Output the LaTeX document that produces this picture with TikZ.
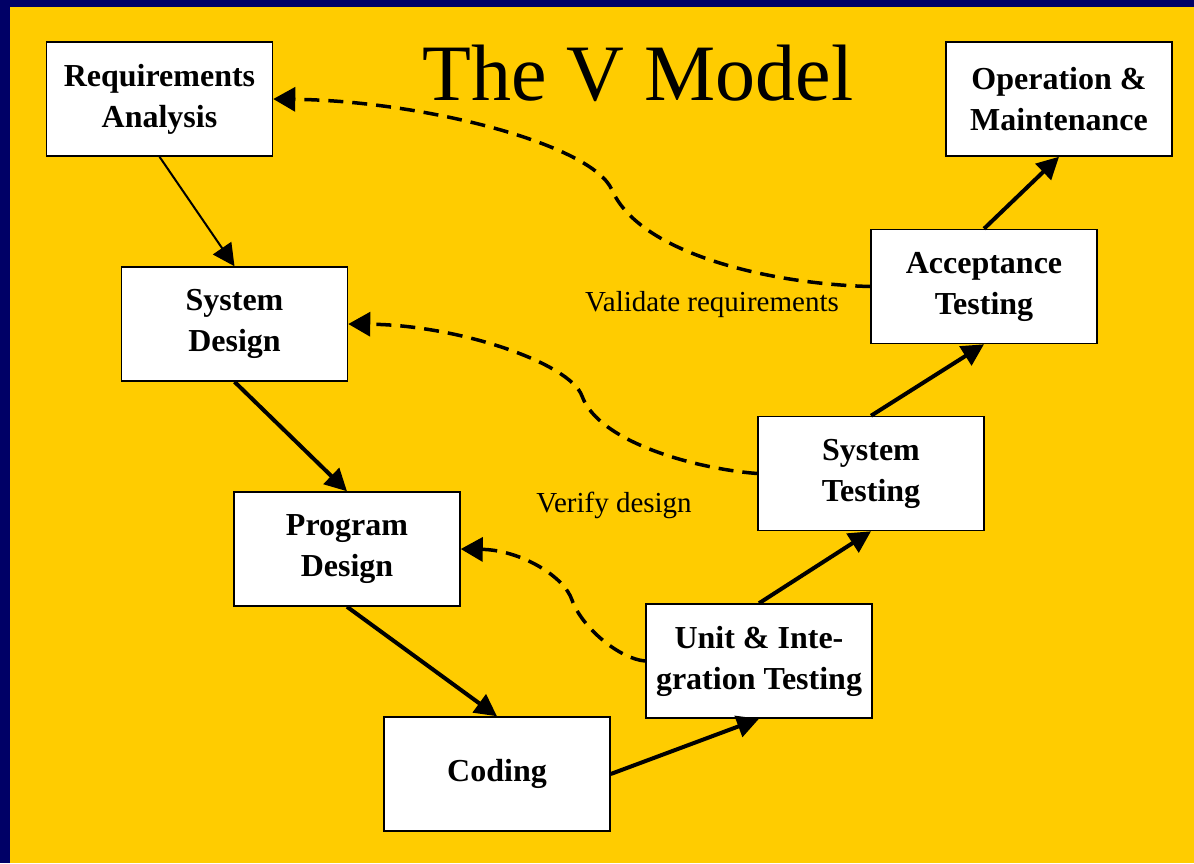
\documentclass[tikz,border=0pt]{standalone}
\usepackage{fontspec}
\setmainfont{Liberation Serif}
\usetikzlibrary{arrows.meta}
\definecolor{vyellow}{RGB}{255,204,0}
\definecolor{vnavy}{RGB}{0,0,102}
\tikzset{
  phase/.style={draw=black, line width=1.5pt, fill=white, minimum width=226pt, minimum height=114pt,
    inner sep=0pt, align=center, font=\fontsize{32}{41}\selectfont\bfseries},
  flow/.style={line width=4pt, -{Triangle[length=22pt,width=22pt]}},
  thinflow/.style={line width=2pt, -{Triangle[length=22pt,width=22pt]}},
  check/.style={line width=3.5pt, dash pattern=on 15pt off 9pt, -{Triangle[length=22pt,width=24pt]}},
  lbl/.style={font=\fontsize{29}{34}\selectfont, anchor=base, inner sep=0pt}
}
\begin{document}
\begin{tikzpicture}[x=1pt,y=-1pt]
\useasboundingbox (0,0) rectangle (1194,863);
\fill[vnavy] (0,0) rectangle (1194,863);
\fill[vyellow] (10,7) rectangle (1194,863);

\node[anchor=base, inner sep=0pt, font=\fontsize{80}{90}\selectfont] (title) at (638,100) {The V Model};

\node[phase] (req) at (159.5,99) {Requirements\\Analysis};
\node[phase] (om) at (1059,99) {Operation \&\\Maintenance};
\node[phase] (sd) at (234.5,324) {System\\Design};
\node[phase] (at) at (984,286.5) {Acceptance\\Testing};
\node[phase] (pd) at (347,549) {Program\\Design};
\node[phase] (st) at (871,473.5) {System\\Testing};
\node[phase] (unit) at (759,661) {Unit \& Inte-\\gration Testing};
\node[phase] (cod) at (497,774) {Coding};

\draw[thinflow] (req.south) -- (sd.north);
\draw[flow] (sd.south) -- (pd.north);
\draw[flow] (pd.south) -- (cod.north);
\draw[flow] (cod.east) -- (unit.south);
\draw[flow] (unit.north) -- (st.south);
\draw[flow] (st.north) -- (at.south);
\draw[flow] (at.north) -- (om.south);

\coordinate (m1) at (612,190);
\coordinate (m2) at (582,396);
\coordinate (m3) at (572,600);
\draw[check] (at.west) .. controls (771,284) and (640,254) .. (m1)
  .. controls (592,144) and (423,101) .. (req.east);
\draw[check] (st.west) .. controls (698,469) and (599,443) .. (m2)
  .. controls (570,363) and (458,325) .. (sd.east);
\draw[check] (unit.west) .. controls (620,659) and (582,628) .. (m3)
  .. controls (564,576) and (520,550) .. (pd.east);

\node[lbl] (val) at (712,311) {Validate requirements};
\node[lbl] (ver) at (614,512) {Verify design};
\end{tikzpicture}
\end{document}
